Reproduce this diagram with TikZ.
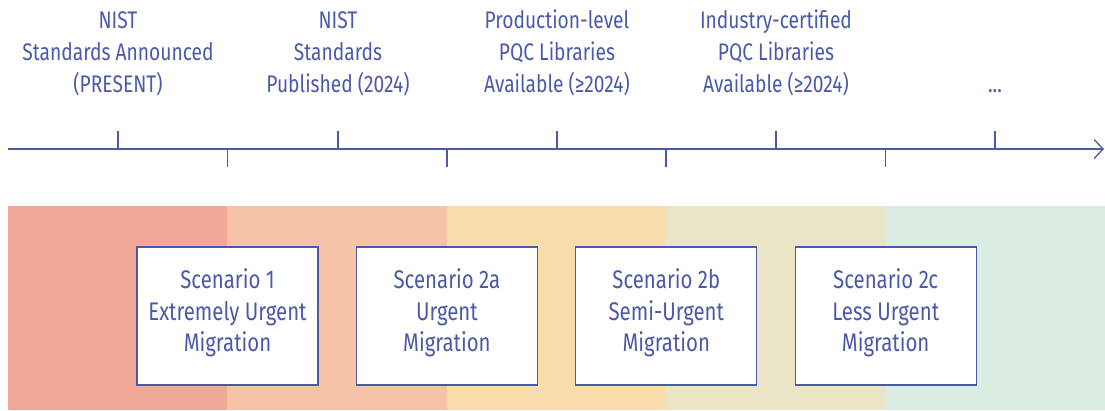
\documentclass[tikz,border=0pt]{standalone}
\usepackage{fontspec}
\setmainfont[FakeStretch=0.8]{Fira Sans}
\usetikzlibrary{arrows.meta,positioning}
\definecolor{navy}{HTML}{4A5AA8}
\definecolor{bandA}{HTML}{F0A899}
\definecolor{bandB}{HTML}{F5C3A5}
\definecolor{bandC}{HTML}{F9DCAB}
\definecolor{bandD}{HTML}{EBE5C8}
\definecolor{bandE}{HTML}{DBECE3}

\begin{document}
\begin{tikzpicture}[x=1pt,y=-1pt,line width=1.3pt,draw=navy,
	event/.style={anchor=south,align=center,inner sep=0pt,text depth=0pt,text=navy,
		font=\fontsize{24}{32}\selectfont},
	scenario/.style={draw=navy,fill=white,line width=1.2pt,align=center,text=navy,
		minimum width=181pt,minimum height=138pt,inner sep=0pt,text depth=11pt,
		font=\fontsize{25.5}{31.5}\selectfont},
	node distance=37.2pt]
	\useasboundingbox (0,0) rectangle (1105,410);

	% colour bands
	\fill[bandA] (8,206) rectangle (227,410);
	\fill[bandB] (227,206) rectangle (447,410);
	\fill[bandC] (447,206) rectangle (666,410);
	\fill[bandD] (666,206) rectangle (885,410);
	\fill[bandE] (885,206) rectangle (1105,410);

	% time axis
	\coordinate (axis start) at (8,149);
	\coordinate (axis end) at (1104,149);
	\draw[navy,-{Straight Barb[length=9pt,width=19pt]}] (axis start) -- (axis end);

	\draw[navy] (118,131) -- (118,149);
	\draw[navy] (338,131) -- (338,149);
	\draw[navy] (557,131) -- (557,149);
	\draw[navy] (776,131) -- (776,149);
	\draw[navy] (995,131) -- (995,149);

	\draw[navy] (227.5,149) -- (227.5,167);
	\draw[navy] (447,149) -- (447,167);
	\draw[navy] (666,149) -- (666,167);
	\draw[navy] (885.5,149) -- (885.5,167);

	% milestones
	\node[event] (announced) at (118,93) {NIST\\Standards Announced\\(PRESENT)};
	\node[event] (published) at (338,93) {NIST\\Standards\\Published (2024)};
	\node[event] (prodlibs) at (557,93) {Production-level\\PQC Libraries\\Available (≥2024)};
	\node[event] (certlibs) at (776,93) {Industry-certified\\PQC Libraries\\Available (≥2024)};
	\node[event] (later) at (995,93) {...};

	% scenarios
	\node[scenario] (s1) at (227.5,316) {Scenario 1\\Extremely Urgent\\Migration};
	\node[scenario] (s2a) [right=of s1] {Scenario 2a\\Urgent\\Migration};
	\node[scenario] (s2b) [right=of s2a] {Scenario 2b\\Semi-Urgent\\Migration};
	\node[scenario] (s2c) [right=of s2b] {Scenario 2c\\Less Urgent\\Migration};
\end{tikzpicture}
\end{document}
